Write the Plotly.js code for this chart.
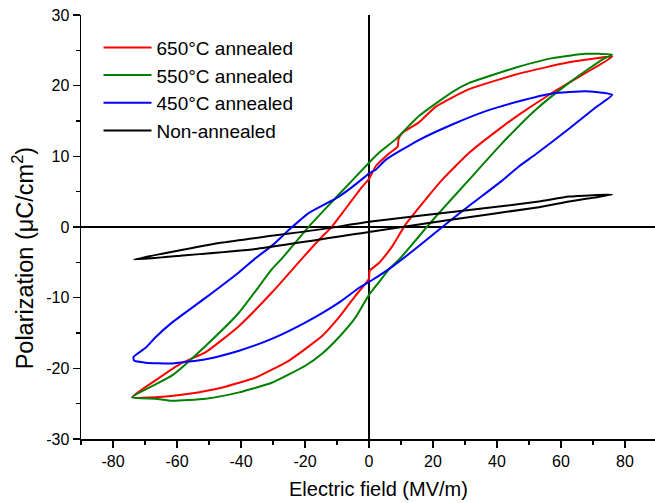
<!DOCTYPE html>
<html>
<head>
<meta charset="utf-8">
<script src="https://cdn.plot.ly/plotly-3.0.1.min.js"></script>
<style>html,body{margin:0;padding:0;overflow:hidden;background:#fff}</style>
</head>
<body>
<div id="chart"></div>
<script>
// ---- data ----
const seriesNames = ["650°C annealed", "550°C annealed", "450°C annealed", "Non-annealed"];
const seriesColors = ["#ff0000", "#008000", "#0000ff", "#000000"];

const redX = [-74, -66.7, -56.3, -45.8, -35.4, -25, -14.6, -9.4, -4.2, 0, 0.2, 3.1, 7.3, 11.5, 17.7, 22.9, 31.3, 41.7, 46.9, 57.3, 67.7, 76,
              70, 62.5, 46.9, 31.3, 20.8, 15.6, 10.4, 9.2, 9.0, 6.25, 2.1, 0, -2.1, -8.3, -11.5, -15.6, -20.8, -30.2, -40.6, -51, -58.3, -66.7, -74];
const redY = [-24.1, -24.1, -23.6, -22.7, -21.3, -18.9, -15.4, -12.8, -9.7, -7.3, -6.2, -5.1, -2.7, 0.4, 3.9, 6.7, 10.5, 14.2, 15.9, 19.0, 21.8, 24.1,
              23.8, 23.3, 21.7, 19.5, 17.0, 14.8, 13.3, 12.4, 11.4, 10.4, 8.6, 6.8, 5.7, 2.0, 0.1, -1.8, -4.4, -9.2, -14.0, -17.7, -19.2, -21.7, -24.1];

const greenX = [-74, -66.7, -61.5, -51, -40.6, -30.2, -19.8, -14.6, -9.4, -4.2, 0, 3.1, 6.25, 9.4, 12.5, 17.7, 21.9, 31.3, 41.7, 52.1, 62.5, 72.9, 76,
                72, 67.7, 57.3, 46.9, 36.5, 31.3, 26, 15.6, 8.3, 3.1, 0, -9.4, -18.75, -27.1, -30.2, -40.6, -51, -61.5, -74];
const greenY = [-24.1, -24.3, -24.6, -24.3, -23.4, -22.0, -19.6, -17.9, -15.6, -12.8, -9.6, -7.8, -6.0, -4.6, -3.0, -0.2, 2.0, 6.7, 11.9, 16.6, 20.4, 23.7, 24.4,
                24.5, 24.5, 23.9, 22.7, 21.2, 20.4, 19.1, 15.7, 12.4, 10.5, 9.1, 4.6, 0.1, -4.4, -5.9, -12.1, -16.8, -21.0, -24.1];

const blueX = [-73.4, -69.8, -61.5, -51, -40.6, -30.2, -19.8, -9.4, -3.1, 1.0, 7.3, 15.6, 22.9, 31.3, 41.7, 46.9, 52.1, 62.5, 70.8, 76,
               72.9, 67.7, 57.3, 46.9, 36.5, 26, 15.6, 5.2, 2.1, 0, -1.0, -9.4, -18.75, -25, -30.2, -35.4, -40.6, -51, -61.5, -66.7, -69.8, -72.3, -73.6, -73.4];
const blueY = [-18.9, -19.2, -19.3, -18.7, -17.5, -15.8, -13.5, -10.7, -8.6, -7.5, -5.6, -2.7, 0.0, 3.0, 6.6, 8.6, 10.3, 13.9, 16.9, 18.7,
               19.0, 19.2, 18.9, 17.8, 16.4, 14.5, 12.3, 9.5, 8.1, 7.6, 7.2, 4.3, 2.0, -0.4, -2.6, -4.4, -6.4, -10.0, -13.5, -15.6, -17.1, -17.9, -18.4, -18.9];

const blackX = [-73.4, -60, -35.4, 0, 25, 53.1, 62.5, 76,
                62.5, 53.1, 31.3, 0, -14.6, -45.8, -73.4];
const blackY = [-4.6, -4.1, -3.1, -0.7, 1.0, 2.8, 3.6, 4.6,
                4.3, 3.6, 2.4, 0.75, -0.3, -2.2, -4.6];

const xTickVals = [-80, -60, -40, -20, 0, 20, 40, 60, 80];
const xTickText = ["-80", "-60", "-40", "-20", "0", "20", "40", "60", "80"];
const yTickVals = [-30, -20, -10, 0, 10, 20, 30];
const yTickText = ["-30", "-20", "-10", "0", "10", "20", "30"];
const xTitle = "Electric field (MV/m)";
const yTitle = "Polarization (μC/cm<sup>2</sup>)";

const xs = [redX, greenX, blueX, blackX];
const ys = [redY, greenY, blueY, blackY];

// ---- chart ----
const FONT = "Liberation Sans, Arial, Helvetica, sans-serif";
const traces = xs.map((x, i) => ({
  x: x, y: ys[i], type: "scatter", mode: "lines", name: seriesNames[i],
  line: {color: seriesColors[i], width: 2, shape: "spline", smoothing: 0.5}
}));

const layout = {
  width: 657, height: 503,
  margin: {l: 81, r: 0, t: 15, b: 64},
  paper_bgcolor: "#fff", plot_bgcolor: "#fff",
  font: {family: FONT, color: "#000", size: 16},
  showlegend: true,
  legend: {x: 0.0304, y: 0.968, xanchor: "left", yanchor: "top", bgcolor: "rgba(0,0,0,0)",
           font: {family: FONT, size: 19, color: "#000"}, itemwidth: 48, tracegroupgap: 0},
  xaxis: {
    range: [-90, 90], tickmode: "array", tickvals: xTickVals, ticktext: xTickText,
    ticks: "outside", ticklen: 7, tickwidth: 1.5, tickcolor: "#000",
    minor: {tickmode: "linear", tick0: 0, dtick: 10, ticks: "outside", ticklen: 4, tickwidth: 1.5, tickcolor: "#000", showgrid: false},
    showline: true, linewidth: 1.5, linecolor: "#000", showgrid: false,
    zeroline: true, zerolinewidth: 2, zerolinecolor: "#000",
    tickfont: {family: FONT, size: 16, color: "#000"}
  },
  xaxis2: {
    overlaying: "x", anchor: "y", side: "top", range: [-90, 90],
    tickmode: "linear", tick0: 0, dtick: 10, ticks: "inside", ticklen: 4, tickwidth: 1.5, tickcolor: "#000",
    showticklabels: false, showline: true, linewidth: 1.5, linecolor: "#000",
    showgrid: false, zeroline: false
  },
  yaxis: {
    range: [-30, 30], tickmode: "array", tickvals: yTickVals, ticktext: yTickText,
    ticks: "outside", ticklen: 7, tickwidth: 1.5, tickcolor: "#000",
    minor: {tickmode: "linear", tick0: 0, dtick: 5, ticks: "outside", ticklen: 4, tickwidth: 1.5, tickcolor: "#000", showgrid: false},
    showline: true, linewidth: 1.5, linecolor: "#000", showgrid: false,
    zeroline: true, zerolinewidth: 2, zerolinecolor: "#000",
    tickfont: {family: FONT, size: 16, color: "#000"}
  },
  annotations: [
    {text: xTitle, xref: "paper", yref: "paper", x: 0.517, y: -0.118, xanchor: "center", yanchor: "middle",
     showarrow: false, font: {family: FONT, size: 20, color: "#000"}},
    {text: yTitle, xref: "paper", yref: "paper", x: -0.1, y: 0.427, xanchor: "center", yanchor: "middle",
     textangle: -90, showarrow: false, font: {family: FONT, size: 23.5, color: "#000"}}
  ]
};

Plotly.newPlot("chart", traces, layout, {displayModeBar: false, staticPlot: true});
</script>
</body>
</html>
